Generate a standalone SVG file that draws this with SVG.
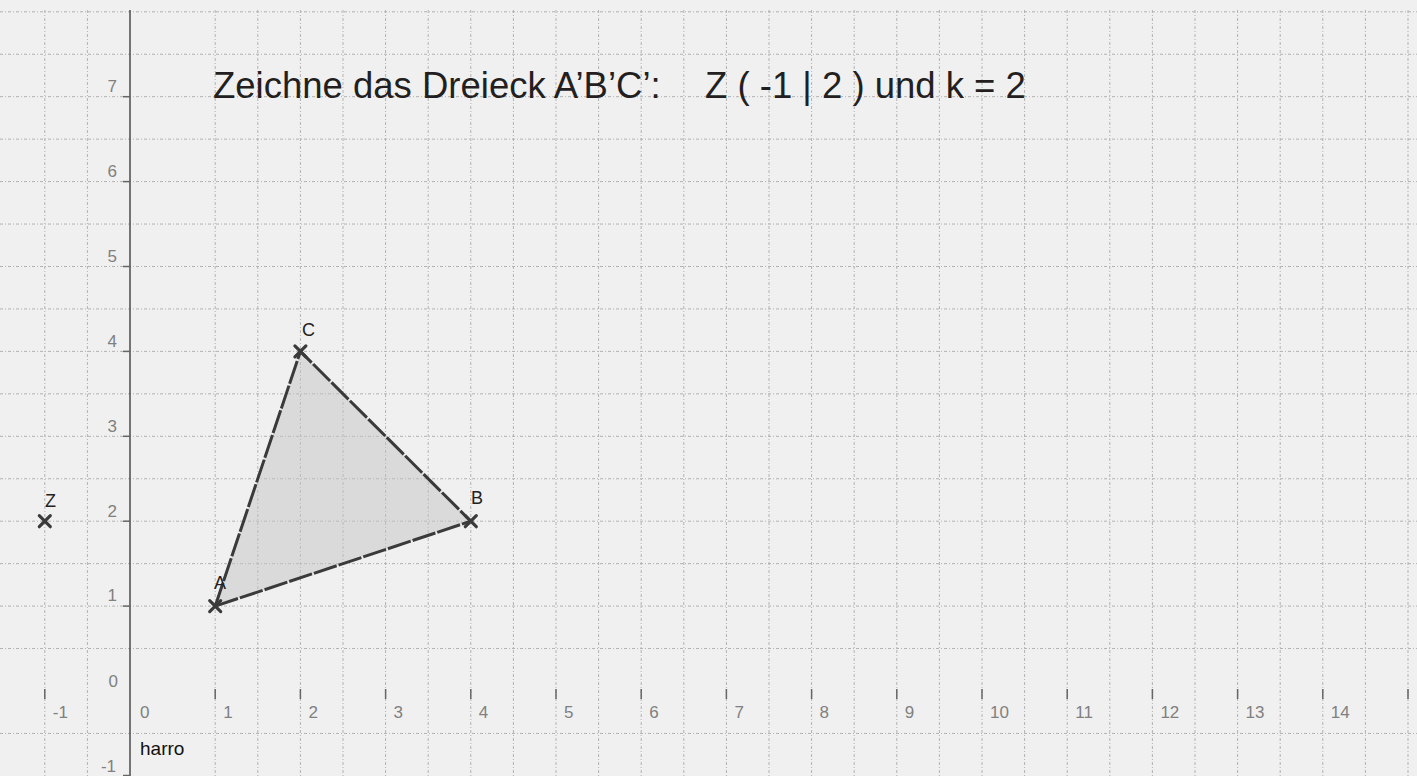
<svg xmlns="http://www.w3.org/2000/svg" width="1417" height="776" viewBox="0 0 1417 776">
<style>
.grid line{stroke:#b2b2b2;stroke-width:1;stroke-dasharray:3 2 1 2}
.tick{stroke:#666;stroke-width:1.5}
.lab{font-family:"Liberation Sans",Arial,sans-serif;font-size:17px;fill:#808080}
.pt{font-family:"Liberation Sans",Arial,sans-serif;font-size:18px;fill:#222}
.cross{stroke:#3a3a3a;stroke-width:3.2;stroke-linecap:round}
</style>
<rect x="0" y="0" width="1417" height="776" fill="#f0f0f0"/>
<g id="grid" class="grid">
<line x1="44.8" y1="10" x2="44.8" y2="776"/>
<line x1="87.4" y1="10" x2="87.4" y2="776"/>
<line x1="215.2" y1="10" x2="215.2" y2="776"/>
<line x1="257.8" y1="10" x2="257.8" y2="776"/>
<line x1="300.4" y1="10" x2="300.4" y2="776"/>
<line x1="343" y1="10" x2="343" y2="776"/>
<line x1="385.6" y1="10" x2="385.6" y2="776"/>
<line x1="428.2" y1="10" x2="428.2" y2="776"/>
<line x1="470.8" y1="10" x2="470.8" y2="776"/>
<line x1="513.4" y1="10" x2="513.4" y2="776"/>
<line x1="556" y1="10" x2="556" y2="776"/>
<line x1="598.6" y1="10" x2="598.6" y2="776"/>
<line x1="641.2" y1="10" x2="641.2" y2="776"/>
<line x1="683.8" y1="10" x2="683.8" y2="776"/>
<line x1="726.4" y1="10" x2="726.4" y2="776"/>
<line x1="769" y1="10" x2="769" y2="776"/>
<line x1="811.6" y1="10" x2="811.6" y2="776"/>
<line x1="854.2" y1="10" x2="854.2" y2="776"/>
<line x1="896.8" y1="10" x2="896.8" y2="776"/>
<line x1="939.4" y1="10" x2="939.4" y2="776"/>
<line x1="982" y1="10" x2="982" y2="776"/>
<line x1="1024.6" y1="10" x2="1024.6" y2="776"/>
<line x1="1067.2" y1="10" x2="1067.2" y2="776"/>
<line x1="1109.8" y1="10" x2="1109.8" y2="776"/>
<line x1="1152.4" y1="10" x2="1152.4" y2="776"/>
<line x1="1195" y1="10" x2="1195" y2="776"/>
<line x1="1237.6" y1="10" x2="1237.6" y2="776"/>
<line x1="1280.2" y1="10" x2="1280.2" y2="776"/>
<line x1="1322.8" y1="10" x2="1322.8" y2="776"/>
<line x1="1365.4" y1="10" x2="1365.4" y2="776"/>
<line x1="1408" y1="10" x2="1408" y2="776"/>
<line x1="0" y1="11.8" x2="1417" y2="11.8"/>
<line x1="0" y1="54.25" x2="1417" y2="54.25"/>
<line x1="0" y1="96.7" x2="1417" y2="96.7"/>
<line x1="0" y1="139.15" x2="1417" y2="139.15"/>
<line x1="0" y1="181.6" x2="1417" y2="181.6"/>
<line x1="0" y1="224.05" x2="1417" y2="224.05"/>
<line x1="0" y1="266.5" x2="1417" y2="266.5"/>
<line x1="0" y1="308.95" x2="1417" y2="308.95"/>
<line x1="0" y1="351.4" x2="1417" y2="351.4"/>
<line x1="0" y1="393.85" x2="1417" y2="393.85"/>
<line x1="0" y1="436.3" x2="1417" y2="436.3"/>
<line x1="0" y1="478.75" x2="1417" y2="478.75"/>
<line x1="0" y1="521.2" x2="1417" y2="521.2"/>
<line x1="0" y1="563.65" x2="1417" y2="563.65"/>
<line x1="0" y1="606.1" x2="1417" y2="606.1"/>
<line x1="0" y1="648.55" x2="1417" y2="648.55"/>
<line x1="0" y1="733.45" x2="1417" y2="733.45"/>
</g>
<g id="axes">
<line x1="130" y1="10" x2="130" y2="776" stroke="#555" stroke-width="1.6"/>
<g class="tick">
<line x1="123" y1="96.7" x2="130" y2="96.7"/>
<line x1="123" y1="181.6" x2="130" y2="181.6"/>
<line x1="123" y1="266.5" x2="130" y2="266.5"/>
<line x1="123" y1="351.4" x2="130" y2="351.4"/>
<line x1="123" y1="436.3" x2="130" y2="436.3"/>
<line x1="123" y1="521.2" x2="130" y2="521.2"/>
<line x1="123" y1="606.1" x2="130" y2="606.1"/>
<line x1="123" y1="775.5" x2="130" y2="775.5"/>
<line x1="44.8" y1="689" x2="44.8" y2="699"/>
<line x1="215.2" y1="689" x2="215.2" y2="699"/>
<line x1="300.4" y1="689" x2="300.4" y2="699"/>
<line x1="385.6" y1="689" x2="385.6" y2="699"/>
<line x1="470.8" y1="689" x2="470.8" y2="699"/>
<line x1="556" y1="689" x2="556" y2="699"/>
<line x1="641.2" y1="689" x2="641.2" y2="699"/>
<line x1="726.4" y1="689" x2="726.4" y2="699"/>
<line x1="811.6" y1="689" x2="811.6" y2="699"/>
<line x1="896.8" y1="689" x2="896.8" y2="699"/>
<line x1="982" y1="689" x2="982" y2="699"/>
<line x1="1067.2" y1="689" x2="1067.2" y2="699"/>
<line x1="1152.4" y1="689" x2="1152.4" y2="699"/>
<line x1="1237.6" y1="689" x2="1237.6" y2="699"/>
<line x1="1322.8" y1="689" x2="1322.8" y2="699"/>
<line x1="1408" y1="689" x2="1408" y2="699"/>
</g>
<g class="lab" text-anchor="end">
<text x="117" y="92">7</text>
<text x="117" y="177">6</text>
<text x="117" y="262">5</text>
<text x="117" y="347">4</text>
<text x="117" y="432">3</text>
<text x="117" y="517">2</text>
<text x="117" y="601">1</text>
<text x="118" y="687">0</text>
<text x="116" y="772">-1</text>
</g>
<g class="lab">
<text x="52.8" y="718">-1</text>
<text x="140" y="718">0</text>
<text x="223.2" y="718">1</text>
<text x="308.4" y="718">2</text>
<text x="393.6" y="718">3</text>
<text x="478.8" y="718">4</text>
<text x="564" y="718">5</text>
<text x="649.2" y="718">6</text>
<text x="734.4" y="718">7</text>
<text x="819.6" y="718">8</text>
<text x="904.8" y="718">9</text>
<text x="990" y="718">10</text>
<text x="1075.2" y="718">11</text>
<text x="1160.4" y="718">12</text>
<text x="1245.6" y="718">13</text>
<text x="1330.8" y="718">14</text>
</g>
</g>
<g id="triangle">
<polygon points="215.2,606.1 470.8,521.2 300.4,351.4" fill="#c4c4c4" fill-opacity="0.5" stroke="#3a3a3a" stroke-width="3" stroke-dasharray="24 2" stroke-linejoin="round"/>
</g>
<g id="point-A">
<path class="cross" d="M209.7 600.6 L220.7 611.6 M209.7 611.6 L220.7 600.6"/>
<text class="pt" x="214" y="589">A</text>
</g>
<g id="point-B">
<path class="cross" d="M465.3 515.7 L476.3 526.7 M465.3 526.7 L476.3 515.7"/>
<text class="pt" x="471" y="504">B</text>
</g>
<g id="point-C">
<path class="cross" d="M294.9 345.9 L305.9 356.9 M294.9 356.9 L305.9 345.9"/>
<text class="pt" x="302" y="336">C</text>
</g>
<g id="point-Z">
<path class="cross" d="M39.3 515.7 L50.3 526.7 M39.3 526.7 L50.3 515.7"/>
<text class="pt" x="45" y="507">Z</text>
</g>
<g id="title">
<text x="213" y="98" font-family="'Liberation Sans',Arial,sans-serif" font-size="36.5" fill="#231f20"><tspan>Zeichne das Dreieck A’B’C’:</tspan><tspan x="705">Z ( -1 | 2 ) und k = 2</tspan></text>
</g>
<g id="author">
<text x="140" y="755" font-family="'Liberation Sans',Arial,sans-serif" font-size="19" fill="#111">harro</text>
</g>
</svg>
